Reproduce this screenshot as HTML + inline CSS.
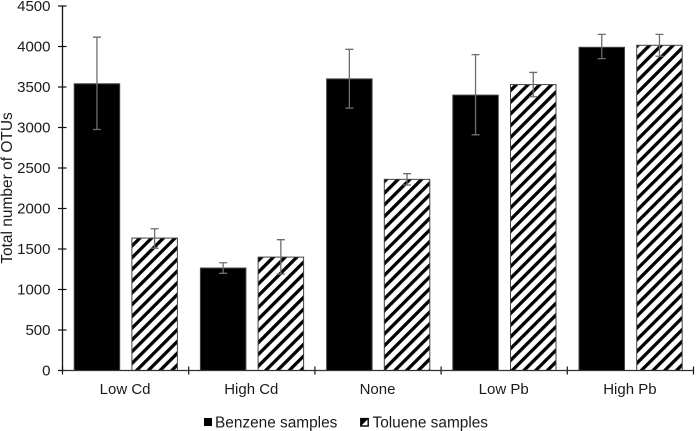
<!DOCTYPE html>
<html>
<head>
<meta charset="utf-8">
<style>
html,body{margin:0;padding:0;background:#fff;}
svg{display:block;font-family:"Liberation Sans",Arial,sans-serif;fill:#1a1a1a;}
</style>
</head>
<body>
<svg id="chart" width="696" height="431" viewBox="0 0 696 431" xmlns="http://www.w3.org/2000/svg">
<defs>
<pattern id="stripes" width="8.3" height="8.3" patternUnits="userSpaceOnUse" patternTransform="rotate(45)">
<rect width="8.3" height="8.3" fill="#fff"></rect>
<rect x="0" width="3.3" height="8.3" fill="#000"></rect>
</pattern>
</defs>
<text transform="translate(12,188) rotate(-90)" text-anchor="middle" font-size="15.5">Total number of OTUs</text>
<rect x="204" y="418" width="8" height="8" fill="#000"></rect>
<text x="215" y="427.5" font-size="15.4">Benzene samples</text>
<g>
<rect x="360.8" y="418.6" width="7.4" height="7.4" fill="#fff" stroke="#000" stroke-width="1.4"></rect>
<polygon points="361,426 368,419 361,419" fill="#000"></polygon>
</g>
<text x="372.5" y="427.5" font-size="15.4">Toluene samples</text>
<g id="plot"></g>
</svg>
<script>
const categories = ['Low Cd', 'High Cd', 'None', 'Low Pb', 'High Pb'];
const benzene = [3540, 1265, 3600, 3400, 3990];
const benzeneLow = [2975, 1200, 3240, 2910, 3850];
const benzeneHigh = [4115, 1330, 3965, 3900, 4150];
const toluene = [1635, 1400, 2360, 3530, 4015];
const tolueneLow = [1510, 1190, 2290, 3380, 3880];
const tolueneHigh = [1750, 1615, 2430, 3680, 4150];
const yTicks = [0, 500, 1000, 1500, 2000, 2500, 3000, 3500, 4000, 4500];

const NS = 'http://www.w3.org/2000/svg';
const plot = document.getElementById('plot');
const x0 = 62.5, catW = 126.2, y0 = 370.5, yTop = 6, yMax = 4500, barW = 45.5;
function yScale(v) { return y0 - (v / yMax) * (y0 - yTop); }
function catX(i) { return x0 + i * catW; }
function make(tag, attrs) {
  const el = document.createElementNS(NS, tag);
  for (const k in attrs) el.setAttribute(k, attrs[k]);
  plot.appendChild(el);
  return el;
}
function drawBar(x, v, lo, hi, fill, stroke, name) {
  const r = make('rect', { x: x, y: yScale(v), width: barW, height: y0 - yScale(v), fill: fill, stroke: stroke, 'stroke-width': 1 });
  
  
  const cx = x + barW / 2;
  const e = make('path', {
    d: 'M' + cx + ' ' + yScale(lo) + 'V' + yScale(hi) +
       'M' + (cx - 4) + ' ' + yScale(hi) + 'H' + (cx + 4) +
       'M' + (cx - 4) + ' ' + yScale(lo) + 'H' + (cx + 4),
    fill: 'none', stroke: '#6e6e6e', 'stroke-width': 1.3
  });
  
  
}
categories.forEach(function (c, i) {
  drawBar(catX(i) + 11.7, benzene[i], benzeneLow[i], benzeneHigh[i], '#000', '#444', 'bar-benzene-' + i);
  drawBar(catX(i) + 69.4, toluene[i], tolueneLow[i], tolueneHigh[i], 'url(#stripes)', '#444', 'bar-toluene-' + i);
  const t = make('text', { x: catX(i) + catW / 2 - 0.5, y: 394, 'text-anchor': 'middle', 'font-size': 15 });
  t.textContent = c;
  
  
});
for (let i = 0; i <= categories.length; i++) {
  const tk = make('line', { x1: catX(i), x2: catX(i), y1: y0 - 4, y2: y0 + 4, stroke: '#111', 'stroke-width': 1.2 });
  
  
}
yTicks.forEach(function (v) {
  const tk = make('line', { x1: x0 - 4.5, x2: x0 + 4, y1: yScale(v), y2: yScale(v), stroke: '#111', 'stroke-width': 1.2 });
  
  
  const t = make('text', { x: 50.5, y: yScale(v) + 5.2, 'text-anchor': 'end', 'font-size': 15 });
  t.textContent = v;
  
  
});
const ya = make('line', { x1: x0, x2: x0, y1: yTop, y2: y0, stroke: '#111', 'stroke-width': 1.3 });


const xa = make('line', { x1: x0, x2: catX(categories.length), y1: y0, y2: y0, stroke: '#333', 'stroke-width': 1.2 });


</script>
</body>
</html>
